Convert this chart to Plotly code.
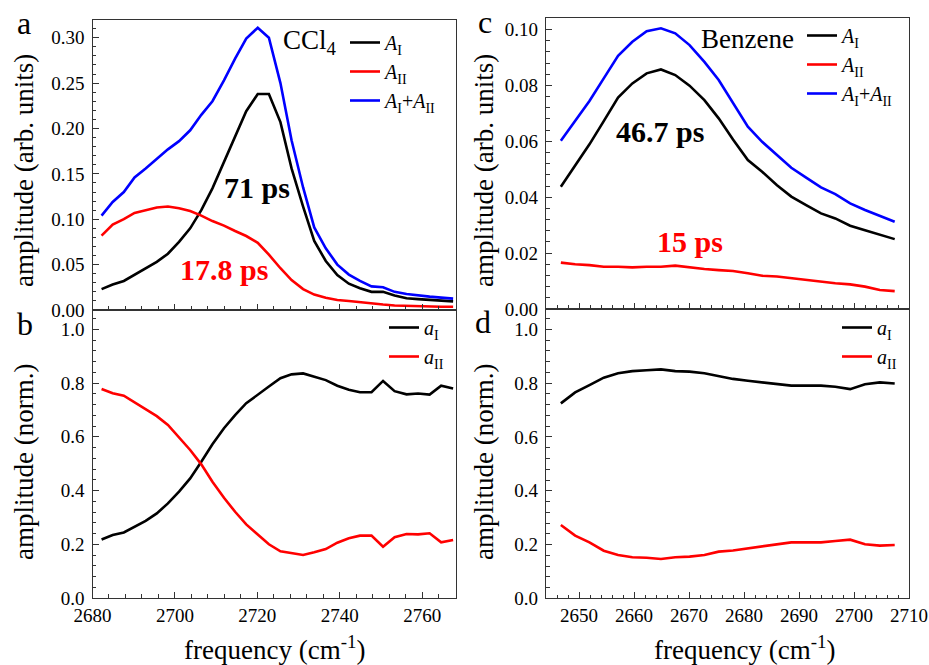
import plotly.graph_objects as go

# ---------------- data ----------------
# CCl4 (panels a, b)
ccl4_freq = [2682.2, 2684.9, 2687.6, 2690.2, 2692.9, 2695.6, 2698.3, 2701.0, 2703.7, 2706.4,
             2709.1, 2711.9, 2714.6, 2717.3, 2720.1, 2722.8, 2725.6, 2728.3, 2731.1, 2733.8,
             2736.6, 2739.4, 2742.2, 2744.9, 2747.7, 2750.5, 2753.3, 2756.2, 2759.0, 2761.8,
             2764.6, 2767.5]
ccl4_A1 = [0.023, 0.028, 0.032, 0.039, 0.046, 0.053, 0.062, 0.075, 0.090, 0.110,
           0.134, 0.163, 0.191, 0.219, 0.238, 0.238, 0.207, 0.156, 0.114, 0.076,
           0.054, 0.0386, 0.029, 0.024, 0.020, 0.020, 0.016, 0.013, 0.012, 0.011,
           0.0105, 0.0095]
ccl4_A2 = [0.082, 0.094, 0.100, 0.107, 0.110, 0.113, 0.114, 0.112, 0.109, 0.104,
           0.098, 0.093, 0.087, 0.0815, 0.074, 0.061, 0.046, 0.033, 0.023, 0.017,
           0.0136, 0.011, 0.0099, 0.0084, 0.007, 0.006, 0.005, 0.0045, 0.004, 0.0038,
           0.0036, 0.0035]
ccl4_sum = [0.104, 0.119, 0.130, 0.146, 0.156, 0.167, 0.177, 0.186, 0.198, 0.215,
            0.230, 0.253, 0.277, 0.299, 0.311, 0.300, 0.250, 0.187, 0.135, 0.091,
            0.068, 0.050, 0.039, 0.032, 0.026, 0.025, 0.020, 0.0176, 0.0158, 0.0147,
            0.0136, 0.0125]
ccl4_a1 = [0.218, 0.2345, 0.244, 0.266, 0.287, 0.315, 0.352, 0.396, 0.445, 0.507,
           0.572, 0.632, 0.681, 0.725, 0.758, 0.787, 0.818, 0.8325, 0.836, 0.825,
           0.811, 0.790, 0.775, 0.766, 0.766, 0.808, 0.770, 0.758, 0.761, 0.757,
           0.790, 0.780]
ccl4_a2 = [0.778, 0.762, 0.753, 0.728, 0.703, 0.677, 0.644, 0.597, 0.551, 0.4975,
           0.433, 0.373, 0.321, 0.274, 0.2345, 0.200, 0.174, 0.166, 0.160, 0.170,
           0.182, 0.206, 0.222, 0.232, 0.232, 0.191, 0.226, 0.238, 0.237, 0.241,
           0.207, 0.216]

# Benzene (panels c, d)
benz_freq = [2646.7, 2649.3, 2651.9, 2654.5, 2657.1, 2659.7, 2662.3, 2664.9, 2667.5, 2670.1,
             2672.8, 2675.4, 2678.0, 2680.7, 2683.3, 2686.0, 2688.6, 2691.3, 2694.0, 2696.6,
             2699.3, 2702.0, 2704.7, 2707.4]
benz_A1 = [0.0437, 0.0515, 0.0589, 0.0672, 0.0756, 0.0807, 0.0843, 0.0857, 0.0837, 0.0799,
           0.0747, 0.0682, 0.0606, 0.0533, 0.0491, 0.0443, 0.0402, 0.0372, 0.0342, 0.0324,
           0.0298, 0.0282, 0.0267, 0.0250]
benz_A2 = [0.0166, 0.0160, 0.0157, 0.0151, 0.0151, 0.0149, 0.0151, 0.0151, 0.0155, 0.0148,
           0.0143, 0.0139, 0.0136, 0.0128, 0.0119, 0.0116, 0.0110, 0.0104, 0.0098, 0.0092,
           0.0088, 0.0080, 0.0068, 0.0064]
benz_sum = [0.0602, 0.0672, 0.0744, 0.0825, 0.0906, 0.0956, 0.0994, 0.1004, 0.0986, 0.0944,
            0.0884, 0.0819, 0.0735, 0.0652, 0.0598, 0.0551, 0.0505, 0.0470, 0.0435, 0.0411,
            0.0378, 0.0354, 0.0333, 0.0312]
benz_a1 = [0.725, 0.766, 0.793, 0.8205, 0.837, 0.845, 0.848, 0.8515, 0.845, 0.843,
           0.837, 0.827, 0.816, 0.809, 0.803, 0.795, 0.791, 0.791, 0.791, 0.787,
           0.778, 0.796, 0.803, 0.799]
benz_a2 = [0.2727, 0.233, 0.208, 0.177, 0.161, 0.1525, 0.151, 0.146, 0.1525, 0.155,
           0.161, 0.1735, 0.178, 0.186, 0.191, 0.201, 0.208, 0.208, 0.208, 0.213,
           0.218, 0.201, 0.196, 0.198]

# labels
names_A = ["<i>A</i><sub>I</sub>", "<i>A</i><sub>II</sub>", "<i>A</i><sub>I</sub>+<i>A</i><sub>II</sub>"]
names_a = ["<i>a</i><sub>I</sub>", "<i>a</i><sub>II</sub>"]
lifetimes = ["71 ps", "17.8 ps", "46.7 ps", "15 ps"]
samples = ["CCl<sub>4</sub>", "Benzene"]
panel_letters = ["a", "b", "c", "d"]

# ---------------- figure ----------------
W, H = 929, 665
FONT = "Liberation Serif, Times New Roman, serif"
BLACK, RED, BLUE = "#000000", "#ff0000", "#0000ff"
LW = 2.6


def px_x(x):
    return x / W


def px_y(y):
    return 1 - y / H


fig = go.Figure()


def add(x, y, name, color, xa, ya, leg):
    fig.add_trace(go.Scatter(x=x, y=y, name=name, mode="lines",
                             line=dict(color=color, width=LW),
                             xaxis=xa, yaxis=ya, legend=leg))


add(ccl4_freq, ccl4_A1, names_A[0], BLACK, "x", "y", "legend")
add(ccl4_freq, ccl4_A2, names_A[1], RED, "x", "y", "legend")
add(ccl4_freq, ccl4_sum, names_A[2], BLUE, "x", "y", "legend")
add(ccl4_freq, ccl4_a1, names_a[0], BLACK, "x2", "y2", "legend2")
add(ccl4_freq, ccl4_a2, names_a[1], RED, "x2", "y2", "legend2")
add(benz_freq, benz_A1, names_A[0], BLACK, "x3", "y3", "legend3")
add(benz_freq, benz_A2, names_A[1], RED, "x3", "y3", "legend3")
add(benz_freq, benz_sum, names_A[2], BLUE, "x3", "y3", "legend3")
add(benz_freq, benz_a1, names_a[0], BLACK, "x4", "y4", "legend4")
add(benz_freq, benz_a2, names_a[1], RED, "x4", "y4", "legend4")

AX = "#333333"


def axis(domain, rng, dtick, minor, fmt, anchor, labels=True, standoff=3):
    return dict(domain=domain, range=rng, dtick=dtick, tick0=0, tickformat=fmt,
                showline=True, linecolor=AX, linewidth=1.3, mirror=True,
                ticks="inside", ticklen=6, tickwidth=1.2, tickcolor=AX,
                minor=dict(ticks="inside", ticklen=3.5, tickwidth=1, tickcolor=AX, dtick=minor, tick0=0),
                showgrid=False, zeroline=False, showticklabels=labels,
                tickfont=dict(family=FONT, size=19, color="black"),
                ticklabelstandoff=standoff, anchor=anchor, fixedrange=True, automargin=False)


xL = [px_x(92.5), px_x(456)]
xR = [px_x(546), px_x(909)]

fig.update_layout(
    width=W, height=H, margin=dict(l=0, r=0, t=0, b=0, autoexpand=False),
    paper_bgcolor="white", plot_bgcolor="white",
    font=dict(family=FONT, color="black"),
    xaxis=axis(xL, [2680, 2768.2], 20, 4, "d", "y", labels=False),
    yaxis=axis([px_y(310), px_y(20)], [0, 0.3195], 0.05, 0.01, ".2f", "x"),
    xaxis2=axis(xL, [2680, 2768.2], 20, 4, "d", "y2", standoff=0),
    yaxis2=axis([px_y(598), px_y(310)], [0, 1.072], 0.2, 0.04, ".1f", "x2"),
    xaxis3=axis(xR, [2644, 2710], 10, 2, "d", "y3", labels=False),
    yaxis3=axis([px_y(309), px_y(18)], [0, 0.1041], 0.02, 0.004, ".2f", "x3"),
    xaxis4=axis(xR, [2644, 2710], 10, 2, "d", "y4", standoff=0),
    yaxis4=axis([px_y(598.3), px_y(309)], [0, 1.076], 0.2, 0.04, ".1f", "x4"),
    showlegend=True,
)


def legend(x, y):
    return dict(x=px_x(x), y=px_y(y), xanchor="left", yanchor="top",
                bgcolor="rgba(0,0,0,0)", borderwidth=0, tracegroupgap=0,
                font=dict(family=FONT, size=20, color="black"), itemwidth=30)


fig.update_layout(legend=legend(345, 23), legend2=legend(384, 308),
                  legend3=legend(802, 16), legend4=legend(837, 308))

ann = []


def text(x, y, t, size, color="black", bold=False, angle=0):
    if bold:
        t = "<b>" + t + "</b>"
    ann.append(dict(x=px_x(x), y=px_y(y), xref="paper", yref="paper", text=t,
                    showarrow=False, xanchor="center", yanchor="middle", textangle=angle,
                    font=dict(family=FONT, size=size, color=color)))


# panel letters
text(24, 23, panel_letters[0], 32)
text(25, 324, panel_letters[1], 32)
text(485, 22, panel_letters[2], 32)
text(483, 322, panel_letters[3], 32)
# sample labels
text(310, 42, samples[0], 27)
text(747, 39, samples[1], 27)
# lifetimes
text(256.7, 187, lifetimes[0], 30, BLACK, True)
text(224, 269, lifetimes[1], 30, RED, True)
text(659.7, 132, lifetimes[2], 30, BLACK, True)
text(690, 242, lifetimes[3], 30, RED, True)
# axis titles
text(24, 171, "amplitude (arb. units)", 27, angle=-90)
text(24, 462, "amplitude (norm.)", 27, angle=-90)
text(484, 171, "amplitude (arb. units)", 27, angle=-90)
text(484, 462, "amplitude (norm.)", 27, angle=-90)
text(274, 648, "frequency (cm<sup>-1</sup>)", 27)
text(744, 648, "frequency (cm<sup>-1</sup>)", 27)

fig.update_layout(annotations=ann)
fig.write_html("out.html", config={"displayModeBar": False},
               post_script="document.body.style.margin='0';document.body.style.overflow='hidden';")
